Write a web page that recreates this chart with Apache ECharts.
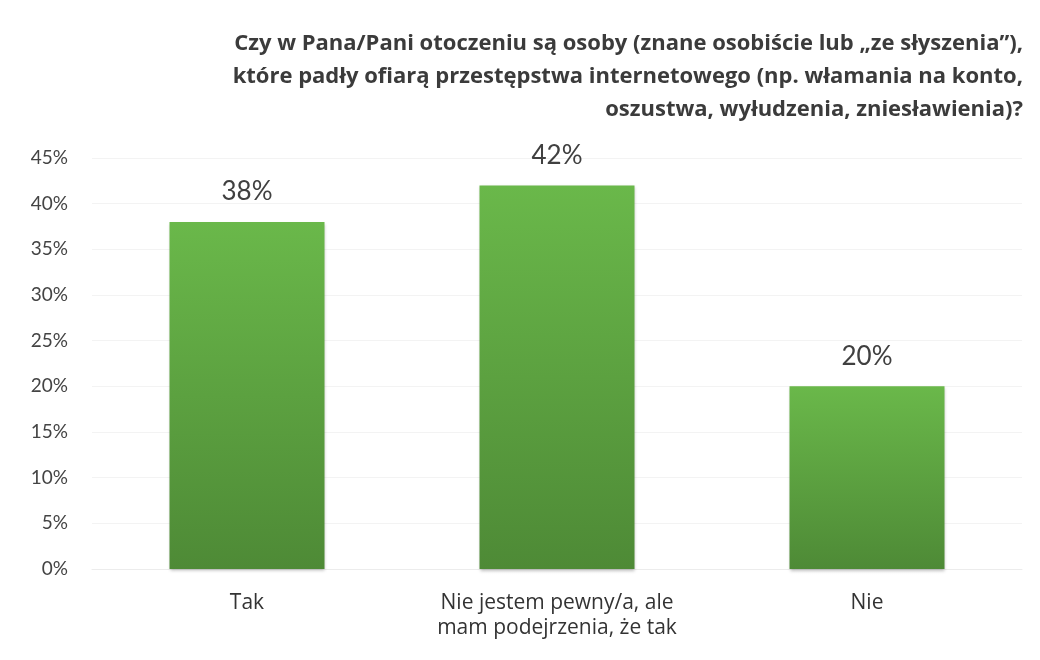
<!DOCTYPE html>
<html><head><meta charset="utf-8">
<script src="https://cdn.jsdelivr.net/npm/echarts@6/dist/echarts.min.js"></script>
<style>html,body{margin:0;padding:0;background:#fff}#c{width:1040px;height:660px}</style>
</head><body><div id="c"></div>
<script>
const titleLines = [
  'Czy w Pana/Pani otoczeniu są osoby (znane osobiście lub „ze słyszenia”),',
  'które padły ofiarą przestępstwa internetowego (np. włamania na konto,',
  'oszustwa, wyłudzenia, zniesławienia)?'
];
const categories = ['Tak', 'Nie jestem pewny/a, ale\nmam podejrzenia, że tak', 'Nie'];
const values = [38, 42, 20];
const yMin = 0, yMax = 45, yStep = 5;

const chart = echarts.init(document.getElementById('c'));
chart.setOption({
  backgroundColor: '#fff',
  graphic: titleLines.map((t, i) => ({
    type: 'text', x: 1023, y: 44 + i * 33,
    style: {
      text: t, align: 'right', verticalAlign: 'middle',
      font: 'bold 22px "Open Sans", sans-serif',
      fill: '#3b3b3b'
    }
  })),
  grid: { left: 92, right: 18, top: 158, bottom: 91, containLabel: false },
  xAxis: {
    type: 'category', data: categories,
    axisLine: { show: true, lineStyle: { color: '#ececec' } },
    axisTick: { show: false },
    axisLabel: {
      interval: 0, margin: 22, color: '#333',
      fontFamily: '"Open Sans", sans-serif',
      fontSize: 21, lineHeight: 25
    }
  },
  yAxis: {
    type: 'value', min: yMin, max: yMax, interval: yStep,
    axisLine: { show: false }, axisTick: { show: false },
    splitLine: { lineStyle: { color: '#f3f3f3' } },
    axisLabel: {
      formatter: v => v + '%', margin: 24, color: '#444',
      fontFamily: 'Lato, sans-serif', fontSize: 19
    }
  },
  series: [{
    type: 'bar', data: values, barWidth: '50%',
    itemStyle: {
      color: new echarts.graphic.LinearGradient(0, 0, 0, 1, [
        { offset: 0, color: '#6ab84a' },
        { offset: 1, color: '#4e8a36' }
      ]),
      shadowColor: 'rgba(0,0,0,0.25)', shadowBlur: 3, shadowOffsetY: 2
    },
    label: {
      show: true, position: 'top', distance: 17,
      formatter: p => p.value + '%', color: '#404040',
      fontFamily: 'Lato, sans-serif', fontSize: 26
    }
  }]
});
</script></body></html>
